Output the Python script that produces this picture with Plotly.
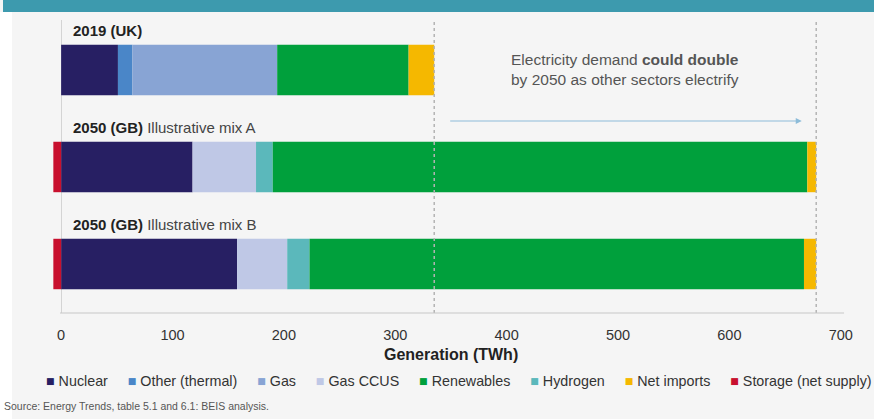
import plotly.graph_objects as go

# ---- data ----
categories = ["2019 (UK)", "2050 (GB) Illustrative mix A", "2050 (GB) Illustrative mix B"]
label_bold = ["2019 (UK)", "2050 (GB)", "2050 (GB)"]
label_rest = ["", " Illustrative mix A", " Illustrative mix B"]
series_names = ["Nuclear", "Other (thermal)", "Gas", "Gas CCUS", "Hydrogen",
                "Renewables", "Net imports", "Storage (net supply)"]
nuclear = [51, 118, 158]
other_thermal = [13, 0, 0]
gas = [130, 0, 0]
gas_ccus = [0, 57, 45]
hydrogen = [0, 15, 20]
renewables = [118, 480, 444]
net_imports = [23, 8, 11]
storage = [0, -7, -7]
legend_order = ["Nuclear", "Other (thermal)", "Gas", "Gas CCUS", "Renewables",
                "Hydrogen", "Net imports", "Storage (net supply)"]
x_ticks = [0, 100, 200, 300, 400, 500, 600, 700]
source_text = "Source: Energy Trends, table 5.1 and 6.1: BEIS analysis."
note_text = "Electricity demand <b>could double</b><br>by 2050 as other sectors electrify"
x_title = "Generation (TWh)"

colors = {
    "Nuclear": "#271f63",
    "Other (thermal)": "#4a86c8",
    "Gas": "#88a4d4",
    "Gas CCUS": "#bfc8e6",
    "Hydrogen": "#5bb8bb",
    "Renewables": "#00a03c",
    "Net imports": "#f5b800",
    "Storage (net supply)": "#c8102e",
}
values = [nuclear, other_thermal, gas, gas_ccus, hydrogen, renewables, net_imports, storage]

FONT = "Liberation Sans, Arial, Helvetica, sans-serif"
BG = "#f5f5f5"
ypos = list(range(len(categories)))

fig = go.Figure()
for name, vals in zip(series_names, values):
    fig.add_trace(go.Bar(
        y=ypos, x=vals, orientation="h", name=name, width=0.52,
        marker=dict(color=colors[name], line=dict(width=0)),
        showlegend=False,
    ))

totals = [sum(v[i] for v in values if v[i] > 0) for i in range(len(categories))]

fig.update_layout(
    width=874, height=419,
    margin=dict(l=50, r=11, t=20, b=106),
    paper_bgcolor=BG, plot_bgcolor=BG,
    barmode="relative",
    font=dict(family=FONT, color="#333"),
    xaxis=dict(range=[-10, 720], tickvals=x_ticks, ticks="outside", ticklen=9,
               tickcolor="rgba(0,0,0,0)", showgrid=False, zeroline=True,
               zerolinecolor="#d4d4d4", zerolinewidth=1, showline=False,
               tickfont=dict(size=14.5, color="#333")),
    yaxis=dict(range=[2.505, -0.515], showticklabels=False, showgrid=False,
               zeroline=False, showline=False),
)

shapes = []
# teal banner at top
shapes.append(dict(type="rect", xref="paper", yref="paper", x0=-0.0578, x1=1.03,
                   y0=1.0273, y1=1.1, fillcolor="#3d9aae", line=dict(width=0), layer="above"))
# white strip at left
shapes.append(dict(type="rect", xref="paper", yref="paper", x0=-0.08, x1=-0.0467,
                   y0=-0.4, y1=1.0273, fillcolor="white", line=dict(width=0), layer="below"))
# dotted reference lines at 2019 total and 2050 total
for t in [totals[0], totals[1]]:
    shapes.append(dict(type="line", xref="x", yref="paper", x0=t, x1=t, y0=0, y1=1,
                       line=dict(color="#b4b4b4", width=1.5, dash="dot"), layer="above"))
# bottom axis line
shapes.append(dict(type="line", xref="x", yref="paper", x0=-1, x1=703, y0=0, y1=0,
                   line=dict(color="#c8c8c8", width=1.2)))
fig.update_layout(shapes=shapes)

ann = []
for i in ypos:
    ann.append(dict(x=8.5, y=i - 0.41, xref="x", yref="y", xanchor="left", yanchor="middle",
                    showarrow=False,
                    text=f"<b>{label_bold[i]}</b><span style='color:#444'>{label_rest[i]}</span>",
                    font=dict(size=15, color="#222", family=FONT)))
ann.append(dict(x=506, y=0.0, xref="x", yref="y", xanchor="center", yanchor="middle",
                showarrow=False, text=note_text, align="center",
                font=dict(size=15.5, color="#555", family=FONT)))
# arrow
ann.append(dict(x=665, y=0.526, ax=348, ay=0.526, xref="x", yref="y", axref="x", ayref="y",
                text="", showarrow=True, arrowhead=2, arrowsize=1, arrowwidth=1.2,
                arrowcolor="#8dbcd9"))
# axis title
ann.append(dict(x=350, y=-0.143, xref="x", yref="paper", xanchor="center", yanchor="middle",
                showarrow=False, text=f"<b>{x_title}</b>",
                font=dict(size=16, color="#222", family=FONT)))
# legend as one line of text
sep = "\u00a0" * 5
leg = sep.join(f"<span style='color:{colors[n]}'>■</span>\u00a0{n}" for n in legend_order)
ann.append(dict(x=0.503, y=-0.232, xref="paper", yref="paper", xanchor="center", yanchor="middle",
                showarrow=False, text=leg, font=dict(size=14.3, color="#333", family=FONT)))
# source
ann.append(dict(x=-0.059, y=-0.317, xref="paper", yref="paper", xanchor="left", yanchor="middle",
                showarrow=False, text=source_text, font=dict(size=10.5, color="#555", family=FONT)))
fig.update_layout(annotations=ann)

fig.write_html("out.html")
